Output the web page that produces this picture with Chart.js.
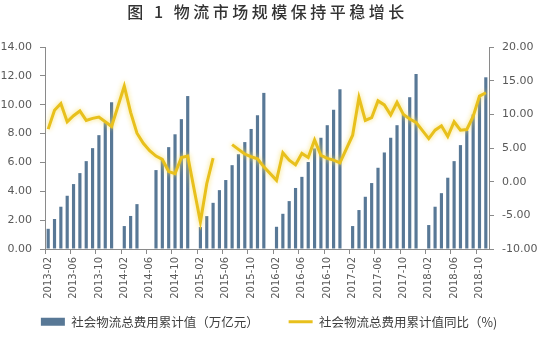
<!DOCTYPE html>
<html>
<head>
<meta charset="utf-8">
<script src="https://cdn.jsdelivr.net/npm/chart.js@4.4.1/dist/chart.umd.min.js"></script>
<style>
  html, body { margin: 0; padding: 0; background: #ffffff; }
  #wrap { position: relative; width: 538px; height: 344px; }
  #title {
    position: absolute; left: 0; top: 1px; width: 535px; text-align: center;
    font-family: "Noto Sans CJK SC", sans-serif; font-size: 16px; line-height: 20px;
    letter-spacing: 3.5px; color: #333333; white-space: pre; font-weight: 500;
  }
  canvas { position: absolute; left: 0; top: 0; }
</style>
</head>
<body>
<div id="wrap">
  <canvas id="c" width="538" height="344"></canvas>
  <div id="title">图 1 物流市场规模保持平稳增长</div>
</div>
<script>
// Months 2013-02 … 2018-11 (January figures are reported together with February)
const categories = [
  '2013-02','2013-03','2013-04','2013-05','2013-06','2013-07','2013-08','2013-09','2013-10','2013-11','2013-12',
  '2014-01','2014-02','2014-03','2014-04','2014-05','2014-06','2014-07','2014-08','2014-09','2014-10','2014-11','2014-12',
  '2015-01','2015-02','2015-03','2015-04','2015-05','2015-06','2015-07','2015-08','2015-09','2015-10','2015-11','2015-12',
  '2016-01','2016-02','2016-03','2016-04','2016-05','2016-06','2016-07','2016-08','2016-09','2016-10','2016-11','2016-12',
  '2017-01','2017-02','2017-03','2017-04','2017-05','2017-06','2017-07','2017-08','2017-09','2017-10','2017-11','2017-12',
  '2018-01','2018-02','2018-03','2018-04','2018-05','2018-06','2018-07','2018-08','2018-09','2018-10','2018-11'
];

// 社会物流总费用累计值（万亿元）
const cumulativeCost = [
  1.40, 2.08, 2.93, 3.69, 4.50, 5.26, 6.09, 6.99, 7.89, 8.77, 10.17,
  null, 1.59, 2.29, 3.11, null, null, 5.47, 6.20, 7.06, 7.95, 9.00, 10.60,
  null, 1.52, 2.28, 3.20, 4.08, 4.78, 5.81, 6.57, 7.41, 8.32, 9.27, 10.82,
  null, 1.54, 2.44, 3.32, 4.23, 5.00, 6.03, 6.97, 7.71, 8.58, 9.65, 11.07,
  null, 1.59, 2.70, 3.62, 4.57, 5.63, 6.69, 7.71, 8.58, 9.37, 10.52, 12.13,
  null, 1.66, 2.93, 3.87, 4.94, 6.09, 7.20, 8.20, 9.32, 10.50, 11.90
];

// 社会物流总费用累计值同比（%）
const yoyPct = [
  7.8, 10.6, 11.6, 8.9, 9.8, 10.5, 9.1, 9.4, 9.6, 8.9, 8.2,
  null, 14.2, 10.3, 7.2, 5.7, 4.6, 3.8, 3.3, 1.5, 1.2, 3.6, 3.8,
  null, -6.0, -0.3, 3.5, null, null, 5.5, 4.8, 4.1, 3.7, 3.4, 2.2,
  null, 0.2, 4.3, 3.2, 2.5, 4.2, 3.6, 6.2, 3.9, 3.45, 3.2, 2.8,
  null, 6.9, 12.5, 9.1, 9.5, 12.0, 11.4, 9.9, 11.8, 10.0, 9.3, 8.8,
  null, 6.4, 7.65, 8.3, 6.7, 8.9, 7.65, 7.75, 9.7, 12.7, 13.2
];

const xTickLabels = [
  '2013-02','2013-06','2013-10','2014-02','2014-06','2014-10','2015-02','2015-06','2015-10',
  '2016-02','2016-06','2016-10','2017-02','2017-06','2017-10','2018-02','2018-06','2018-10'
];
const leftTicks = [0, 2, 4, 6, 8, 10, 12, 14];
const rightTicks = [-10, -5, 0, 5, 10, 15, 20];

const seriesNames = ['社会物流总费用累计值（万亿元）', '社会物流总费用累计值同比（%)'];

// The YoY line runs straight across the January slots; other missing months leave a gap.
const yoyPoints = categories
  .map((c, i) => ({ x: c, y: yoyPct[i] }))
  .filter(p => !p.x.endsWith('-01'));

const BAR_COLOR = '#587896';
const LINE_COLOR = '#E8C01C';
const AXIS_COLOR = '#8a8a8a';
const TICK_TEXT = '#595959';

// soft halo around the YoY line
const lineGlow = {
  id: 'lineGlow',
  beforeDatasetDraw(chart, args) {
    if (args.index === 1) {
      const ctx = chart.ctx;
      ctx.save();
      ctx.shadowColor = 'rgba(248, 222, 100, 0.95)';
      ctx.shadowBlur = 5;
    }
  },
  afterDatasetDraw(chart, args) {
    if (args.index === 1) chart.ctx.restore();
  }
};

new Chart(document.getElementById('c'), {
  data: {
    labels: categories,
    datasets: [
      {
        type: 'bar',
        label: seriesNames[0],
        data: cumulativeCost,
        backgroundColor: BAR_COLOR,
        yAxisID: 'y',
        barPercentage: 0.5,
        categoryPercentage: 1.0,
        order: 1
      },
      {
        type: 'line',
        label: seriesNames[1],
        data: yoyPoints,
        borderColor: LINE_COLOR,
        backgroundColor: LINE_COLOR,
        borderWidth: 3,
        pointRadius: 0,
        tension: 0,
        spanGaps: false,
        yAxisID: 'y1',
        order: 0
      }
    ]
  },
  options: {
    responsive: false,
    animation: false,
    devicePixelRatio: 1,
    layout: { padding: { top: 47, left: 0, right: 0, bottom: 6 } },
    plugins: {
      title: { display: false },
      tooltip: { enabled: false },
      legend: {
        position: 'bottom',
        labels: {
          usePointStyle: true,
          pointStyleWidth: 24,
          boxHeight: 8,
          padding: 30,
          color: '#404040',
          font: { family: '"Noto Sans CJK SC", sans-serif', size: 12.5 },
          sort: (a, b) => a.datasetIndex - b.datasetIndex,
          generateLabels: chart => chart.data.datasets.map((ds, i) => ({
            text: ds.label,
            datasetIndex: i,
            fillStyle: ds.type === 'line' ? ds.borderColor : ds.backgroundColor,
            strokeStyle: ds.type === 'line' ? ds.borderColor : ds.backgroundColor,
            lineWidth: ds.type === 'line' ? 3 : 0,
            pointStyle: ds.type === 'line' ? 'line' : 'rect',
            fontColor: '#404040',
            hidden: false
          }))
        }
      }
    },
    scales: {
      x: {
        type: 'category',
        offset: true,
        afterFit: s => {
          s.height = 36.5;
          // the rotated month labels reach down past the axis box; draw them unclipped
          s._computeLabelArea = () => undefined;
        },
        border: { display: true, color: AXIS_COLOR, width: 1 },
        grid: {
          offset: true,
          drawOnChartArea: false,
          drawTicks: true,
          tickLength: 5,
          tickColor: ctx => (ctx.index % 4 === 0 ? AXIS_COLOR : 'rgba(0,0,0,0)')
        },
        ticks: {
          autoSkip: false,
          minRotation: 90,
          maxRotation: 90,
          padding: 3,
          color: TICK_TEXT,
          font: { family: '"DejaVu Sans", sans-serif', size: 10 },
          callback: function (value) {
            const lab = this.getLabelForValue(value);
            return xTickLabels.includes(lab) ? lab : '';
          }
        }
      },
      y: {
        position: 'left',
        min: leftTicks[0],
        max: leftTicks[leftTicks.length - 1],
        afterFit: s => { s.width = 45; },
        afterBuildTicks: s => { s.ticks = leftTicks.map(v => ({ value: v })); },
        border: { display: true, color: AXIS_COLOR, width: 1 },
        grid: { drawOnChartArea: false, drawTicks: true, tickLength: 5, color: AXIS_COLOR },
        ticks: {
          padding: 8,
          color: TICK_TEXT,
          font: { family: '"DejaVu Sans", sans-serif', size: 11 },
          callback: v => Number(v).toFixed(2)
        }
      },
      y1: {
        position: 'right',
        min: rightTicks[0],
        max: rightTicks[rightTicks.length - 1],
        afterFit: s => { s.width = 49; },
        afterBuildTicks: s => { s.ticks = rightTicks.map(v => ({ value: v })); },
        border: { display: true, color: AXIS_COLOR, width: 1 },
        grid: { drawOnChartArea: false, drawTicks: true, tickLength: 5, color: AXIS_COLOR },
        ticks: {
          padding: 8,
          color: TICK_TEXT,
          font: { family: '"DejaVu Sans", sans-serif', size: 11 },
          callback: v => Number(v).toFixed(2)
        }
      }
    }
  },
  plugins: [lineGlow]
});
</script>
</body>
</html>
